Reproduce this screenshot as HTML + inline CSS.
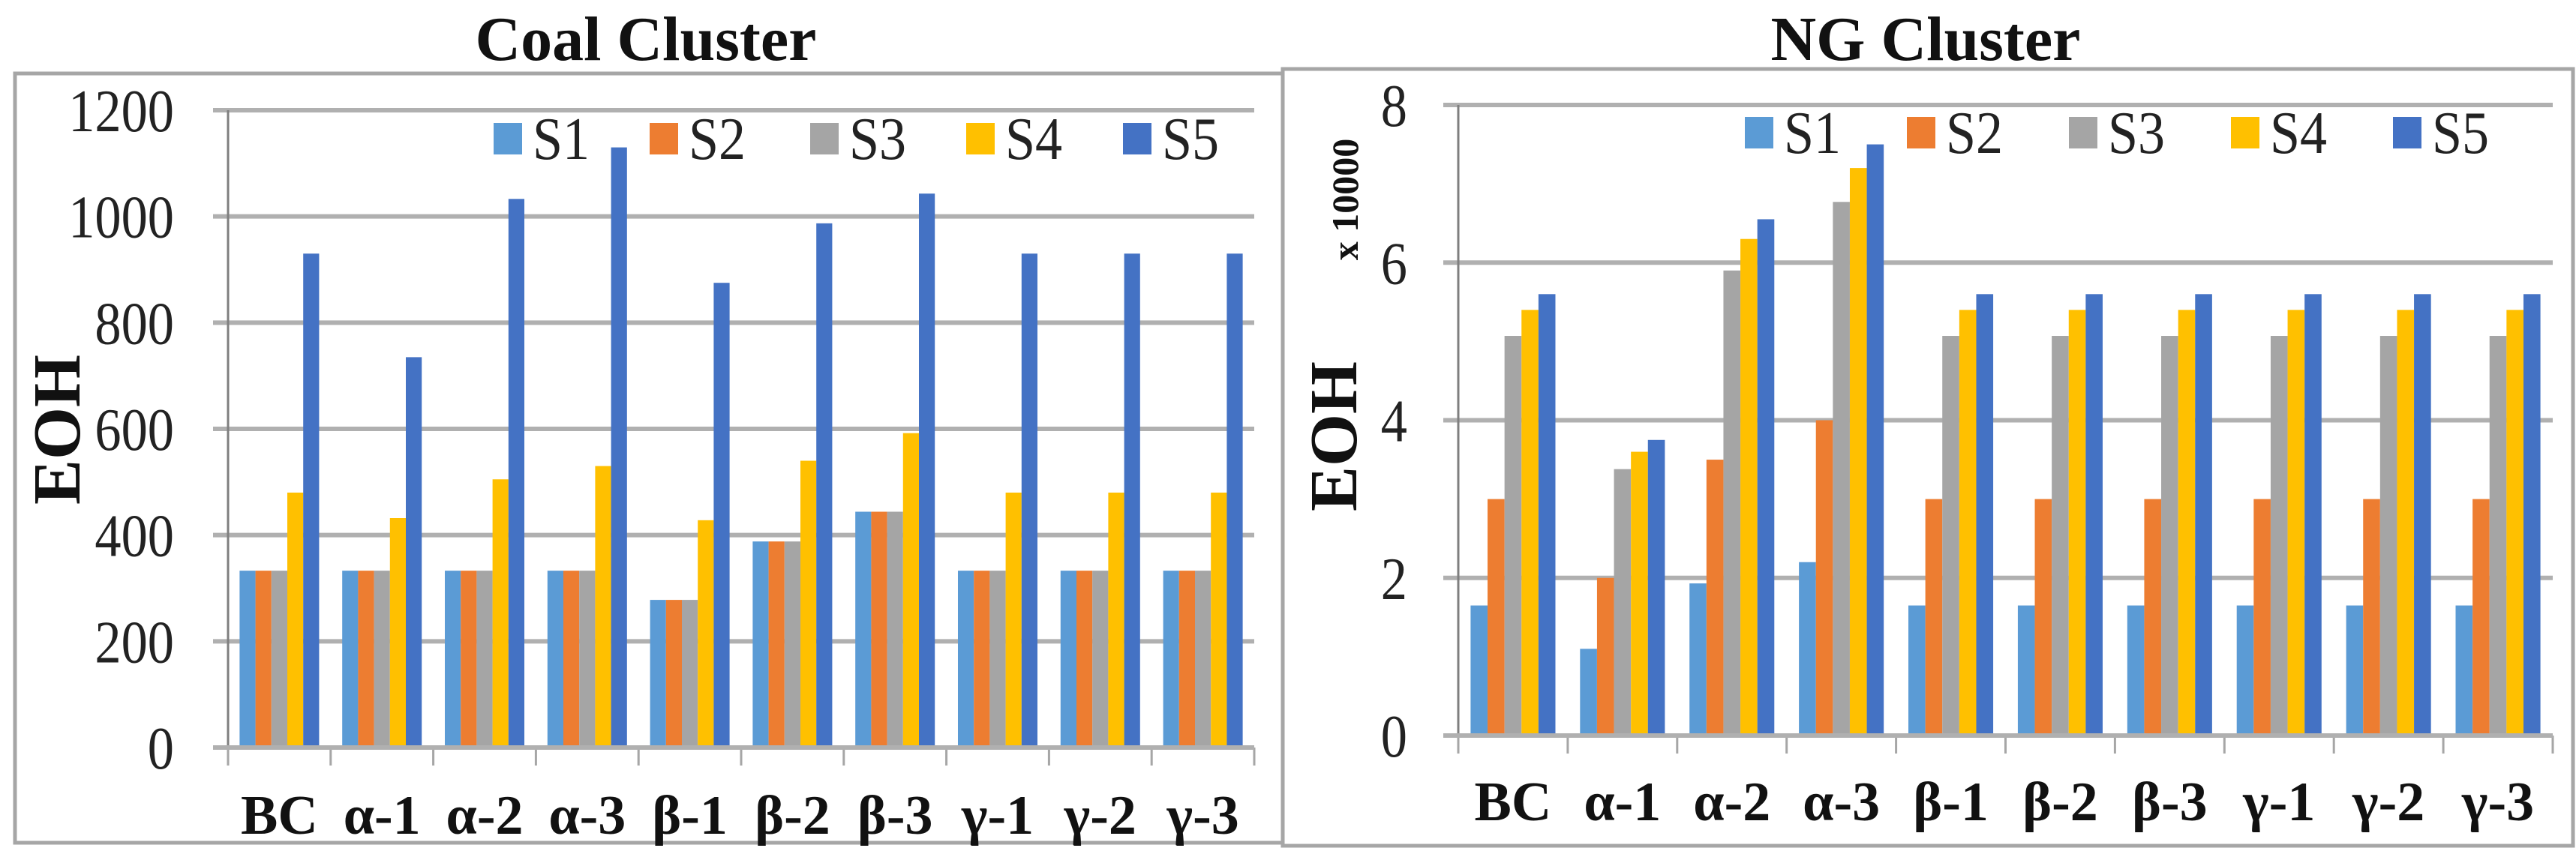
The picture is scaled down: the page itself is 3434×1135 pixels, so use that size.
<!DOCTYPE html>
<html><head><meta charset="utf-8"><style>
html,body{margin:0;padding:0;background:#fff;}
svg{display:block;font-family:"Liberation Serif",serif;}
</style></head><body>
<svg id="svg" width="3434" height="1135" viewBox="0 0 3434 1135" xmlns="http://www.w3.org/2000/svg"></svg>
<script>
const categories = ["BC","α-1","α-2","α-3","β-1","β-2","β-3","γ-1","γ-2","γ-3"];
const seriesNames = ["S1","S2","S3","S4","S5"];
const coalS1 = [333,333,333,333,278,388,444,333,333,333];
const coalS2 = [333,333,333,333,278,388,444,333,333,333];
const coalS3 = [333,333,333,333,278,388,444,333,333,333];
const coalS4 = [480,432,505,530,428,540,592,480,480,480];
const coalS5 = [930,735,1033,1130,875,987,1043,930,930,930];
const coalTicks = [0,200,400,600,800,1000,1200];
const ngS1 = [1.65,1.1,1.93,2.2,1.65,1.65,1.65,1.65,1.65,1.65];
const ngS2 = [3.0,2.0,3.5,4.0,3.0,3.0,3.0,3.0,3.0,3.0];
const ngS3 = [5.07,3.38,5.9,6.77,5.07,5.07,5.07,5.07,5.07,5.07];
const ngS4 = [5.4,3.6,6.3,7.2,5.4,5.4,5.4,5.4,5.4,5.4];
const ngS5 = [5.6,3.75,6.55,7.5,5.6,5.6,5.6,5.6,5.6,5.6];
const ngTicks = [0,2,4,6,8];
const colors = ["#5b9bd5","#ed7d31","#a5a5a5","#ffc000","#4472c4"];

const NS="http://www.w3.org/2000/svg";
const svg=document.getElementById('svg');
function mk(tag,attrs,parent){const e=document.createElementNS(NS,tag);for(const k in attrs)e.setAttribute(k,attrs[k]);(parent||svg).appendChild(e);return e;}

function drawChart(cfg){
  const g=mk('g',{});
  
  
  const fr=mk('rect',{x:cfg.frame[0],y:cfg.frame[1],width:cfg.frame[2],height:cfg.frame[3],fill:'#fff',stroke:'#a6a6a6','stroke-width':5},g);
  
  
  const t=mk('text',{x:cfg.titleX,y:cfg.titleY,'text-anchor':'middle','font-size':84,'font-weight':'bold',fill:'#111'},g);
  t.textContent=cfg.title;
  
  
  const yS=v=>cfg.y0-(v-0)/(cfg.max)*(cfg.y0-cfg.yTop);
  const cw=(cfg.x1-cfg.x0)/categories.length;
  cfg.ticks.forEach(v=>{
    const gl=mk('line',{x1:cfg.x0-20,x2:cfg.x1,y1:yS(v),y2:yS(v),stroke:'#b0b0b0','stroke-width':6},g);
    
    
    const tl=mk('text',{x:0,y:0,'text-anchor':'end','font-size':80,fill:'#222',transform:`translate(${cfg.tickX},${yS(v)+28}) scale(0.88,1)`},g);
    tl.textContent=v;
    
    
  });
  const ya=mk('line',{x1:cfg.x0,x2:cfg.x0,y1:yS(cfg.max),y2:cfg.y0+24,stroke:'#7f7f7f','stroke-width':3},g);
  
  
  for(let i=0;i<=categories.length;i++){
    const tk=mk('line',{x1:cfg.x0+i*cw,x2:cfg.x0+i*cw,y1:cfg.y0,y2:cfg.y0+24,stroke:'#a6a6a6','stroke-width':3},g);
    
    
  }
  const bw=cw*0.155, gap=(cw-5*bw)/2;
  cfg.series.forEach((arr,s)=>{
    arr.forEach((v,i)=>{
      const x=cfg.x0+i*cw+gap+s*bw;
      const b=mk('rect',{x:x,y:yS(v),width:bw,height:cfg.y0-yS(v),fill:colors[s]},g);
      
      
    });
  });
  const xa=mk('line',{x1:cfg.x0-20,x2:cfg.x1,y1:cfg.y0,y2:cfg.y0,stroke:'#b0b0b0','stroke-width':6},g);
  
  
  categories.forEach((c,i)=>{
    const cl=mk('text',{x:cfg.x0+(i+0.5)*cw,y:cfg.catY,'text-anchor':'middle','font-size':74,'font-weight':'bold',fill:'#111'},g);
    cl.textContent=c;
    
    
  });
  const yt=mk('text',{x:0,y:0,'text-anchor':'middle','font-size':90,'font-weight':'bold',fill:'#111',transform:`translate(${cfg.eohX},${cfg.eohY}) rotate(-90)`},g);
  yt.textContent='EOH';
  
  
  if(cfg.mult){
    const mt=mk('text',{x:0,y:0,'text-anchor':'middle','font-size':50,'font-weight':'bold',fill:'#111',transform:`translate(${cfg.mult[0]},${cfg.mult[1]}) rotate(-90)`},g);
    mt.textContent='x 10000';
    
    
  }
  seriesNames.forEach((n,s)=>{
    const lx=cfg.legX[s];
    const sq=mk('rect',{x:lx,y:cfg.legY-20,width:38,height:42,fill:colors[s]},g);
    
    
    const lt=mk('text',{x:0,y:0,'font-size':80,fill:'#222',transform:`translate(${lx+52},${cfg.legY+28}) scale(0.9,1)`},g);
    lt.textContent=n;
    
    
  });
}

drawChart({name:'coal-chart',title:'Coal Cluster',titleX:861,titleY:80,frame:[20,98,1690,1026],
  x0:304,x1:1672,y0:997,yTop:147,max:1200,ticks:coalTicks,tickX:232,catY:1112,eohX:106,eohY:573,
  legX:[658,866,1080,1288,1497],legY:184,series:[coalS1,coalS2,coalS3,coalS4,coalS5]});
drawChart({name:'ng-chart',title:'NG Cluster',titleX:2567,titleY:80,frame:[1710,92,1720,1036],
  x0:1944,x1:3403,y0:981,yTop:140,max:8,ticks:ngTicks,tickX:1876,catY:1094,eohX:1808,eohY:582,mult:[1810,266],
  legX:[2326,2542,2758,2974,3190],legY:176,series:[ngS1,ngS2,ngS3,ngS4,ngS5]});
</script>
</body></html>
